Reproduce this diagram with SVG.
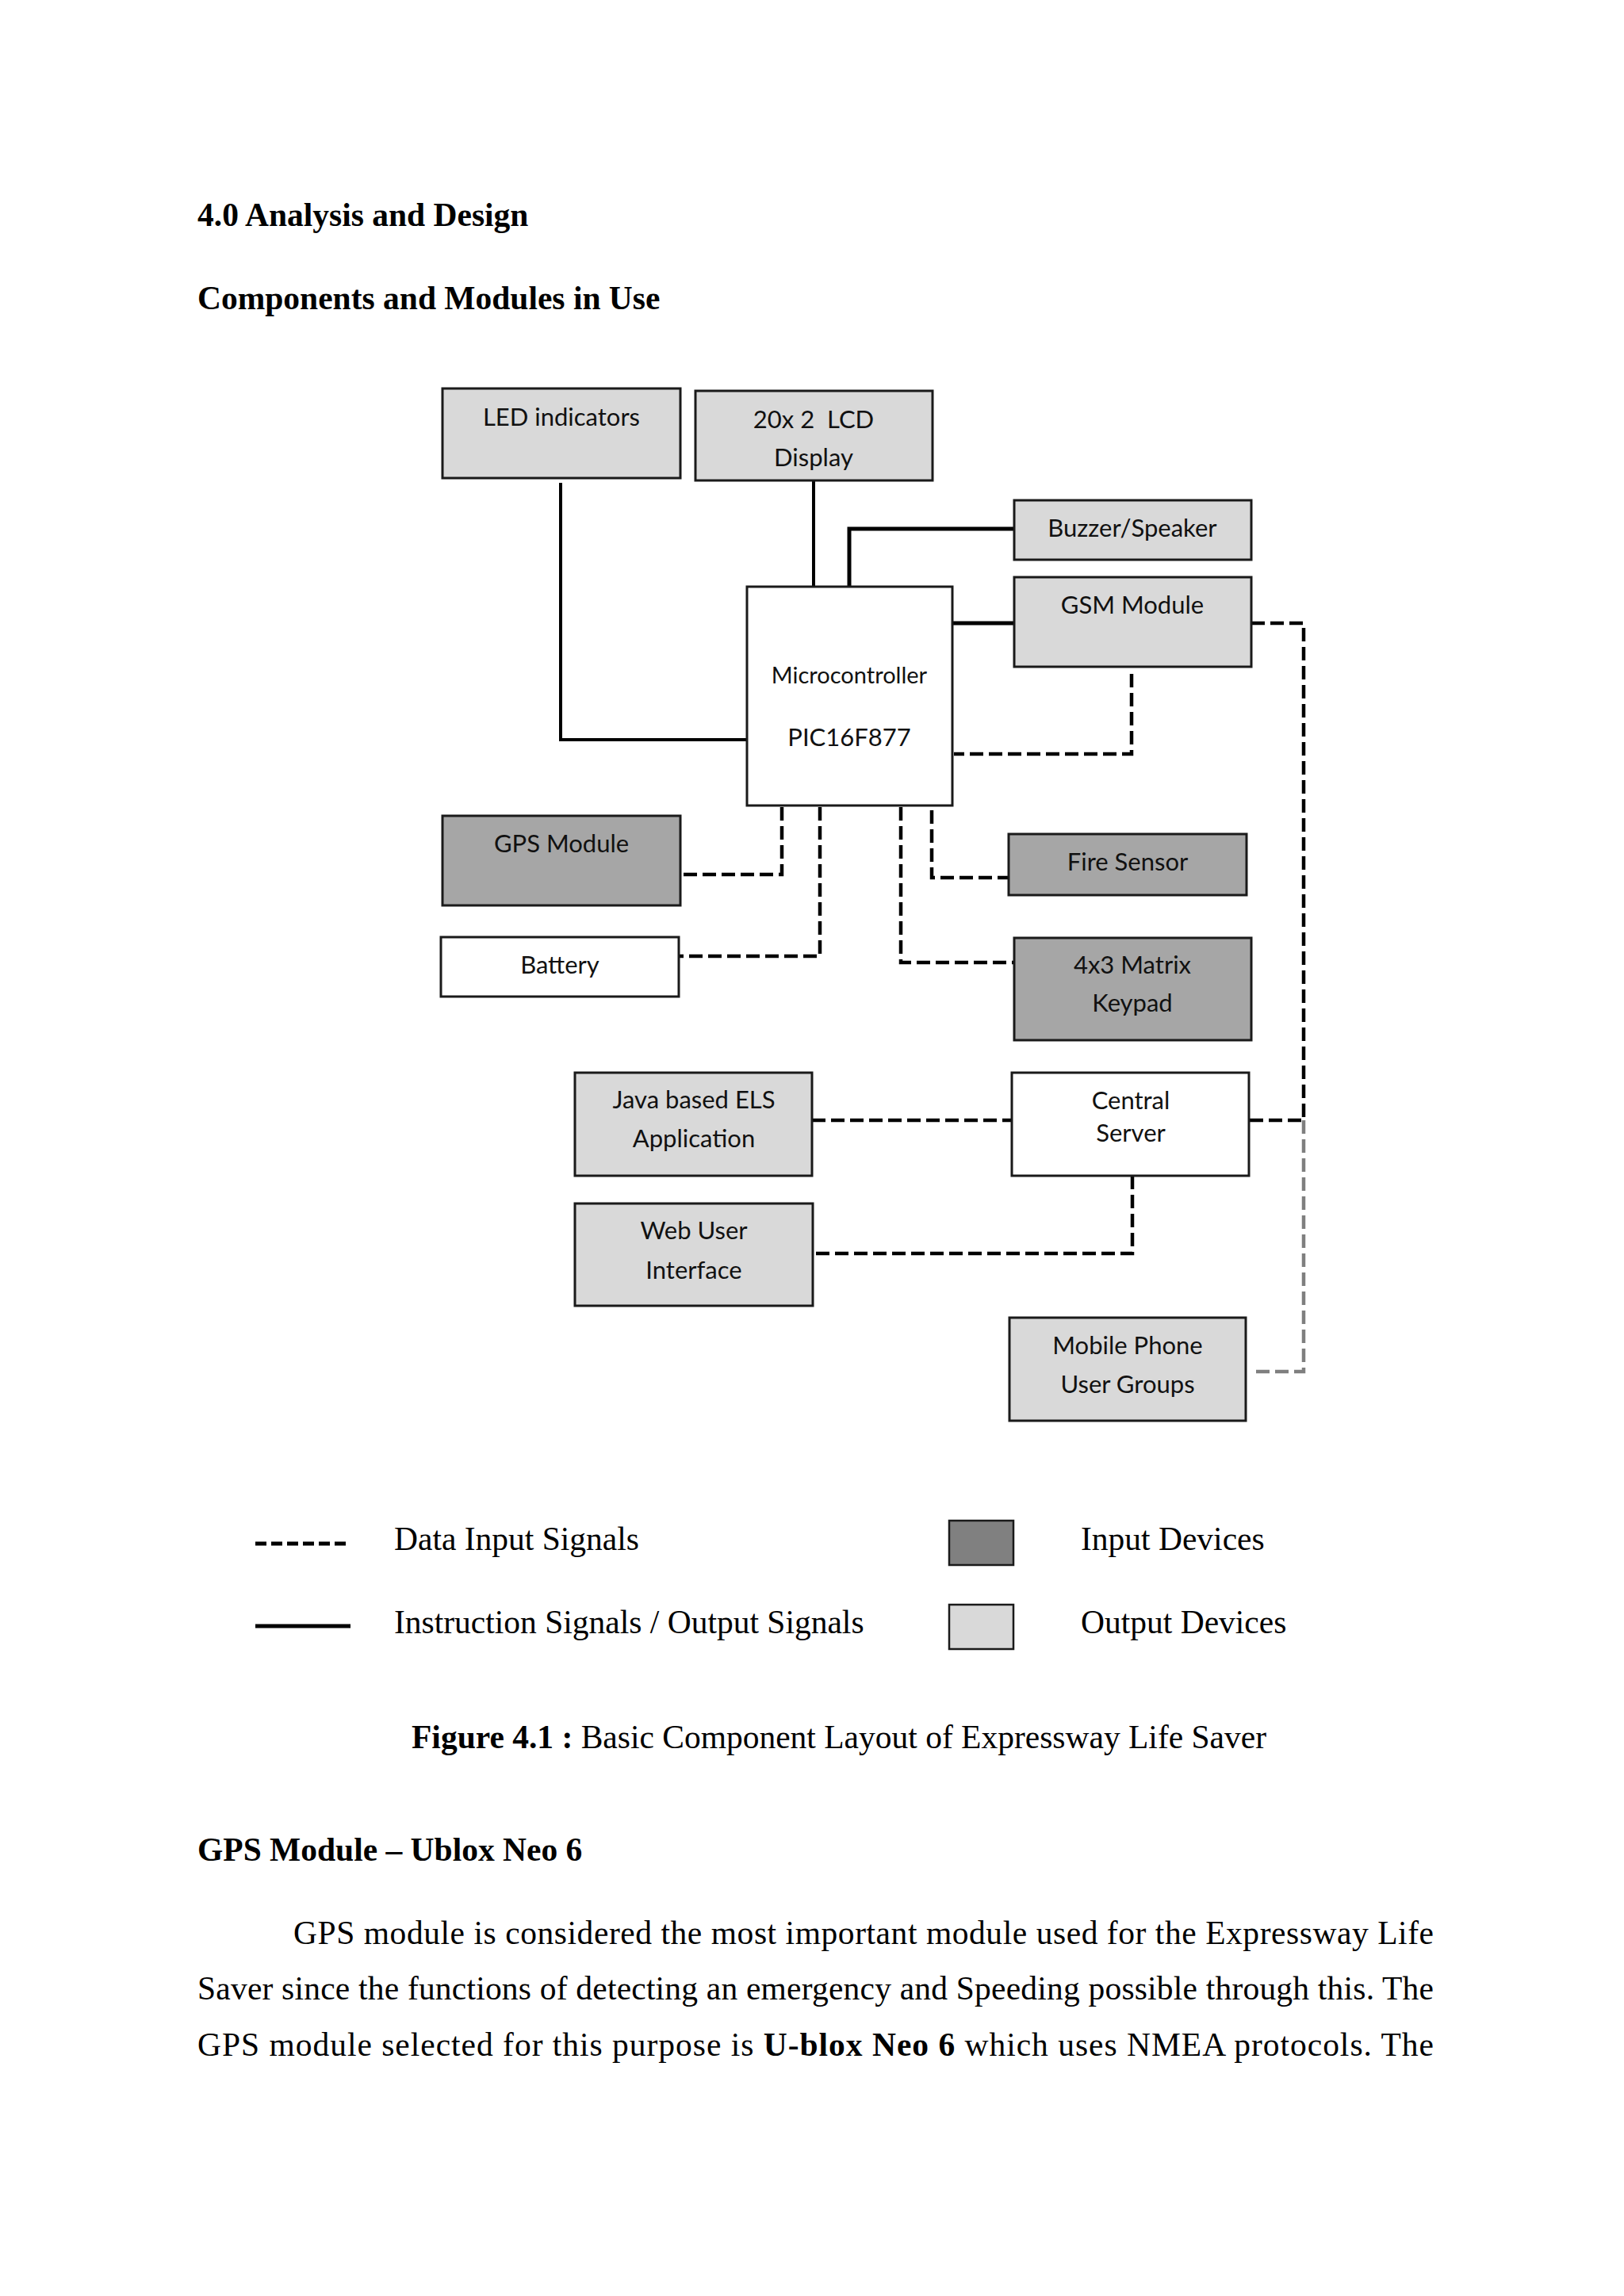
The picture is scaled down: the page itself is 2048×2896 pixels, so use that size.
<svg xmlns="http://www.w3.org/2000/svg" width="2048" height="2896" viewBox="0 0 2048 2896">
<style>
.box{stroke:#1a1a1a;stroke-width:3}
.out{fill:#d9d9d9}
.in{fill:#a6a6a6}
.plain{fill:#ffffff}
.lbl{font-family:Lato,"Open Sans","DejaVu Sans",sans-serif;font-size:31px;fill:#111;text-anchor:middle}
.solid{fill:none;stroke:#000;stroke-width:4;stroke-linejoin:miter}
.thick{stroke-width:5}
.dash{fill:none;stroke:#000;stroke-width:4.5;stroke-dasharray:17 7}
.gdash{fill:none;stroke:#7f7f7f;stroke-width:4.5;stroke-dasharray:17 7}
.serif{font-family:"Liberation Serif","Times New Roman",serif;fill:#000}
.h{font-size:41.5px;font-weight:bold}
.body{font-size:41.5px}
</style>
<rect width="2048" height="2896" fill="#ffffff"/>

<text class="serif h" x="249" y="285">4.0 Analysis and Design</text>
<text class="serif h" x="249" y="390">Components and Modules in Use</text>

<g id="connectors">
  <polyline class="solid" points="707,609 707,933 942,933"/>
  <line class="solid" x1="1026" y1="606" x2="1026" y2="740"/>
  <polyline class="solid thick" points="1071,740 1071,667 1279,667"/>
  <line class="solid thick" x1="1201" y1="786" x2="1279" y2="786"/>
  <polyline class="dash" points="1427,850 1427,951 1203,951"/>
  <polyline class="dash" points="1578,786 1644,786 1644,1413"/>
  <line class="dash" x1="1576" y1="1413" x2="1644" y2="1413"/>
  <polyline class="gdash" points="1644,1413 1644,1730 1579,1730"/>
  <polyline class="dash" points="986,1018 986,1103 858,1103"/>
  <polyline class="dash" points="1034,1018 1034,1206 856,1206"/>
  <polyline class="dash" points="1136,1018 1136,1214 1279,1214"/>
  <polyline class="dash" points="1175,1022 1175,1107 1272,1107"/>
  <line class="dash" x1="1024" y1="1413" x2="1276" y2="1413"/>
  <polyline class="dash" points="1428,1483 1428,1581 1025,1581"/>
</g>

<g id="led"><rect class="box out" x="558" y="490" width="300" height="113"/><text class="lbl" x="708" y="537">LED indicators</text></g>
<g id="lcd"><rect class="box out" x="877" y="493" width="299" height="113"/><text class="lbl" x="1026" y="540" style="white-space:pre">20x 2  LCD</text><text class="lbl" x="1026" y="588">Display</text></g>
<g id="buzzer"><rect class="box out" x="1279" y="631" width="299" height="75"/><text class="lbl" x="1428" y="677">Buzzer/Speaker</text></g>
<g id="gsm"><rect class="box out" x="1279" y="728" width="299" height="113"/><text class="lbl" x="1428" y="774">GSM Module</text></g>
<g id="micro"><rect class="box plain" x="942" y="740" width="259" height="276"/><text class="lbl" x="1071" y="862" style="font-size:29px">Microcontroller</text><text class="lbl" x="1071" y="941">PIC16F877</text></g>
<g id="gps"><rect class="box in" x="558" y="1029" width="300" height="113"/><text class="lbl" x="708" y="1075">GPS Module</text></g>
<g id="fire"><rect class="box in" x="1272" y="1052" width="300" height="77"/><text class="lbl" x="1422" y="1098">Fire Sensor</text></g>
<g id="battery"><rect class="box plain" x="556" y="1182" width="300" height="75"/><text class="lbl" x="706" y="1228">Battery</text></g>
<g id="keypad"><rect class="box in" x="1279" y="1183" width="299" height="129"/><text class="lbl" x="1428" y="1228">4x3 Matrix</text><text class="lbl" x="1428" y="1276">Keypad</text></g>
<g id="java"><rect class="box out" x="725" y="1353" width="299" height="130"/><text class="lbl" x="875" y="1398">Java based ELS</text><text class="lbl" x="875" y="1447">Application</text></g>
<g id="central"><rect class="box plain" x="1276" y="1353" width="299" height="130"/><text class="lbl" x="1426" y="1399">Central</text><text class="lbl" x="1426" y="1440">Server</text></g>
<g id="web"><rect class="box out" x="725" y="1518" width="300" height="129"/><text class="lbl" x="875" y="1563">Web User</text><text class="lbl" x="875" y="1613">Interface</text></g>
<g id="mobile"><rect class="box out" x="1273" y="1662" width="298" height="130"/><text class="lbl" x="1422" y="1708">Mobile Phone</text><text class="lbl" x="1422" y="1757">User Groups</text></g>

<g id="legend">
  <line x1="322" y1="1947" x2="441" y2="1947" stroke="#000" stroke-width="5" stroke-dasharray="14 6"/>
  <line x1="322" y1="2051" x2="442" y2="2051" stroke="#000" stroke-width="5"/>
  <text class="serif body" x="497" y="1955">Data Input Signals</text>
  <text class="serif body" x="497" y="2060">Instruction Signals / Output Signals</text>
  <rect x="1197" y="1918" width="81" height="56" fill="#808080" stroke="#1a1a1a" stroke-width="2.5"/>
  <rect x="1197" y="2024" width="81" height="56" fill="#d9d9d9" stroke="#1a1a1a" stroke-width="2.5"/>
  <text class="serif body" x="1363" y="1955">Input Devices</text>
  <text class="serif body" x="1363" y="2060">Output Devices</text>
</g>

<text class="serif body" x="519" y="2205"><tspan font-weight="bold">Figure 4.1 :</tspan> Basic Component Layout of Expressway Life Saver</text>

<text class="serif h" x="249" y="2347">GPS Module – Ublox Neo 6</text>
<text class="serif body" x="370" y="2452" textLength="1438" lengthAdjust="spacing">GPS module is considered the most important module used for the Expressway Life</text>
<text class="serif body" x="249" y="2522" textLength="1559" lengthAdjust="spacing">Saver since the functions of detecting an emergency and Speeding possible through this. The</text>
<text class="serif body" x="249" y="2593" textLength="1559" lengthAdjust="spacing">GPS module selected for this purpose is <tspan font-weight="bold">U-blox Neo 6</tspan> which uses NMEA protocols. The</text>
</svg>
